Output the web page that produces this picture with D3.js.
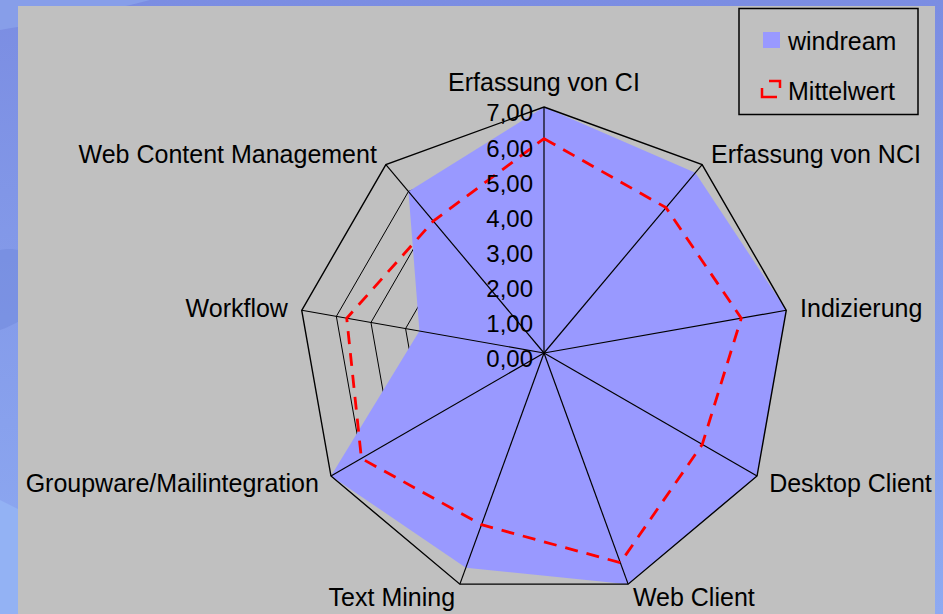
<!DOCTYPE html>
<html>
<head>
<meta charset="utf-8">
<script src="https://cdn.jsdelivr.net/npm/d3@7"></script>
<style>
  body { margin: 0; background: #7f97e6; }
  svg { display: block; font-family: "Liberation Sans", Arial, sans-serif; }
</style>
</head>
<body>
<div id="chart"></div>
<script>
// Kategorien (Achsen im Uhrzeigersinn, oben beginnend)
const categories = [
  'Erfassung von CI', 'Erfassung von NCI', 'Indizierung', 'Desktop Client',
  'Web Client', 'Text Mining', 'Groupware/Mailintegration', 'Workflow',
  'Web Content Management'
];
const windream = [7.0, 6.7, 7.0, 7.0, 7.0, 6.5, 7.0, 3.6, 6.0];
const mittelwert = [6.1, 5.4, 5.7, 5.2, 6.35, 5.2, 6.0, 5.7, 4.9];
const tickValues = [0, 1, 2, 3, 4, 5, 6, 7];
const seriesNames = ['windream', 'Mittelwert'];

const width = 943;
const height = 614;
const cx = 544;
const cy = 353;
const radius = 246;

const svg = d3.select('#chart')
  .append('svg')
  .attr('width', width)
  .attr('height', height)
  .attr('viewBox', [0, 0, width, height]);

// Hintergrund (blauer Folienhintergrund)
const defs = svg.append('defs');
const grad = defs.append('linearGradient')
  .attr('id', 'bg').attr('x1', 0).attr('y1', 0).attr('x2', 0).attr('y2', 1);
grad.append('stop').attr('offset', '0%').attr('stop-color', '#7b8de2');
grad.append('stop').attr('offset', '100%').attr('stop-color', '#8eaaf2');
svg.append('rect').attr('width', width).attr('height', height).attr('fill', 'url(#bg)');
svg.append('path')
  .attr('d', 'M0,30 C60,20 120,8 150,0 L0,0 Z')
  .attr('fill', '#879ee9');
svg.append('path')
  .attr('d', 'M0,250 C40,240 80,300 0,330 Z')
  .attr('fill', '#7088dc').attr('opacity', 0.5);
svg.append('path')
  .attr('d', 'M0,500 C20,510 40,520 60,530 L60,614 L0,614 Z')
  .attr('fill', '#93b2f4');

// Zeichenfläche
svg.append('rect')
  .attr('x', 18).attr('y', 6)
  .attr('width', 917).attr('height', height - 6)
  .attr('fill', '#c0c0c0');

const r = d3.scaleLinear().domain([0, 7]).range([0, radius]);
const angle = d3.scalePoint()
  .domain(categories)
  .range([0, 2 * Math.PI * (categories.length - 1) / categories.length]);

const pt = (cat, v) => {
  const a = angle(cat);
  return [cx + r(v) * Math.sin(a), cy - r(v) * Math.cos(a)];
};

const ring = d3.line().curve(d3.curveLinearClosed);
const fmt = d3.formatLocale({ decimal: ',', thousands: '.', grouping: [3], currency: ['', '€'] }).format('.2f');

// Innere Gitternetzlinien (unter der Fläche)
svg.append('g')
  .selectAll('path')
  .data(tickValues.filter(v => v > 0 && v < 7))
  .join('path')
  .attr('d', v => ring(categories.map(c => pt(c, v))))
  .attr('fill', 'none')
  .attr('stroke', '#000')
  .attr('stroke-width', 1);

// windream Fläche
svg.append('path')
  .attr('d', ring(categories.map((c, i) => pt(c, windream[i]))))
  .attr('fill', '#9999ff')
  .attr('stroke', 'none');

// Speichen
svg.append('g')
  .selectAll('line')
  .data(categories)
  .join('line')
  .attr('x1', cx).attr('y1', cy)
  .attr('x2', c => pt(c, 7)[0])
  .attr('y2', c => pt(c, 7)[1])
  .attr('stroke', '#000')
  .attr('stroke-width', 1.2);

// Äußerer Ring
svg.append('path')
  .attr('d', ring(categories.map(c => pt(c, 7))))
  .attr('fill', 'none')
  .attr('stroke', '#000')
  .attr('stroke-width', 1.4);

// Mittelwert Linie
svg.append('path')
  .attr('d', ring(categories.map((c, i) => pt(c, mittelwert[i]))))
  .attr('fill', 'none')
  .attr('stroke', '#ff0000')
  .attr('stroke-width', 2.8)
  .attr('stroke-dasharray', '13,9');

// Achsenbeschriftung (Werte)
svg.append('g')
  .selectAll('text')
  .data(tickValues)
  .join('text')
  .attr('x', cx - 11)
  .attr('y', v => cy - r(v) + 6)
  .attr('dy', '0.35em')
  .attr('text-anchor', 'end')
  .style('font-size', '24px')
  .attr('fill', '#000')
  .text(v => fmt(v));

// Kategoriebeschriftungen
svg.append('g')
  .selectAll('text')
  .data(categories)
  .join('text')
  .each(function (c) {
    const a = angle(c);
    const s = Math.sin(a), k = Math.cos(a);
    const [vx, vy] = pt(c, 7);
    let x = vx + 14 * s;
    let y = vy - 14 * k;
    if (k > 0.95) y -= 11;
    d3.select(this)
      .attr('x', x)
      .attr('y', y)
      .attr('dy', '0.35em')
      .attr('text-anchor', Math.abs(s) < 0.1 ? 'middle' : (s > 0 ? 'start' : 'end'));
  })
  .style('font-size', '25px')
  .attr('fill', '#000')
  .text(c => c);

// Legende
const legend = svg.append('g');
legend.append('rect')
  .attr('x', 739).attr('y', 8.5)
  .attr('width', 179).attr('height', 106)
  .attr('fill', 'none')
  .attr('stroke', '#000')
  .attr('stroke-width', 1.5);

legend.append('rect')
  .attr('x', 763).attr('y', 32)
  .attr('width', 17).attr('height', 16)
  .attr('fill', '#9999ff');

legend.append('rect')
  .attr('x', 762).attr('y', 81)
  .attr('width', 18).attr('height', 16)
  .attr('fill', 'none')
  .attr('stroke', '#ff0000')
  .attr('stroke-width', 2.5)
  .attr('stroke-dasharray', '0,7,18,12,24,7');

legend.selectAll('text.leg')
  .data(seriesNames)
  .join('text')
  .attr('class', 'leg')
  .attr('x', 788)
  .attr('y', (d, i) => 41 + i * 50)
  .attr('dy', '0.35em')
  .style('font-size', '25px')
  .attr('fill', '#000')
  .text(d => d);
</script>
</body>
</html>
